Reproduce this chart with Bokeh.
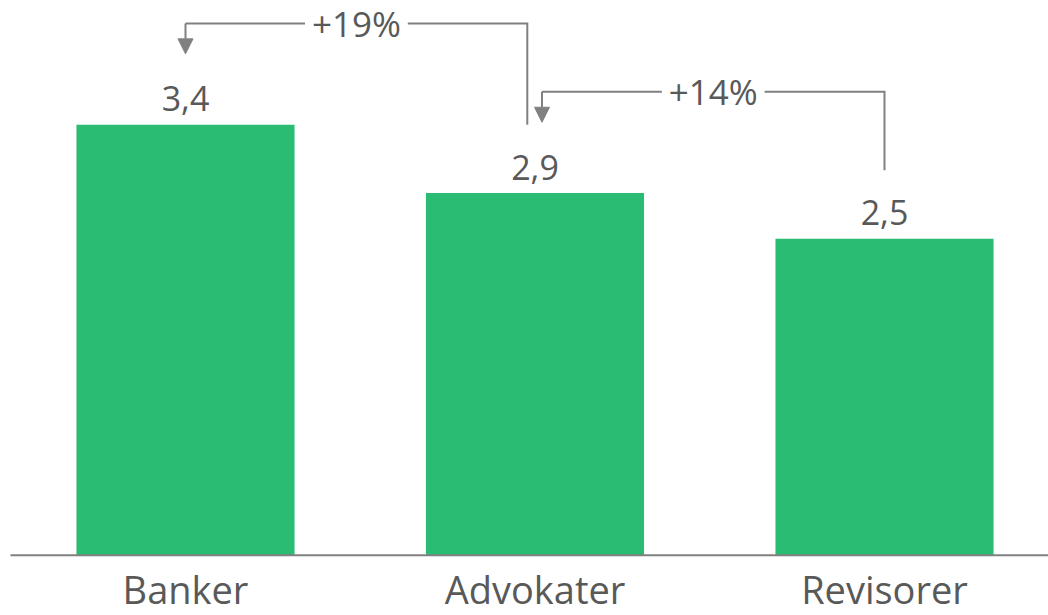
from bokeh.plotting import figure
from bokeh.models import Range1d, Arrow, NormalHead
from bokeh.core.properties import value
from bokeh.embed import file_html
from bokeh.resources import INLINE

# ---- data ----
categories = ["Banker", "Advokater", "Revisorer"]
values = [3.4, 2.86, 2.5]
value_labels = ["3,4", "2,9", "2,5"]
comparisons = [(1, 0), (2, 1)]   # (from bar, to bar)

# ---- style / layout ----
BAR = "#2bbc74"
GREY = "#808080"
TEXT = "#595959"
FONT = "Open Sans"

W, H = 1048, 615
BASE = 554.7            # pixel row of the baseline
PX = 126.6              # pixels per unit
XU = 349.5              # pixels per bar slot
x_start = -185.0 / XU
x_end = x_start + W / XU
y_end = BASE / PX
y_start = -(H - BASE) / PX

xs = list(range(len(categories)))

p = figure(width=W, height=H, output_backend="svg", toolbar_location=None,
           x_range=Range1d(x_start, x_end), y_range=Range1d(y_start, y_end),
           x_axis_location=None, y_axis_location=None,
           min_border_left=0, min_border_right=0, min_border_top=0, min_border_bottom=0)
p.outline_line_color = None
p.xgrid.visible = False
p.ygrid.visible = False
p.background_fill_color = "white"

# bars
p.vbar(x=xs, top=values, bottom=0, width=0.624, fill_color=BAR, line_color=None)

# baseline
p.segment(x0=[x_start + 10 / XU], x1=[x_end], y0=[0], y1=[0], line_color=GREY, line_width=2)

# value labels
p.text(x=xs, y=[v + 26 / PX for v in values], text=value_labels, text_align="center",
       text_baseline="middle", text_font=value(FONT), text_font_size="34px", text_color=TEXT)

# category labels
p.text(x=xs, y=[-34 / PX] * len(xs), text=categories, text_align="center",
       text_baseline="middle", text_font=value(FONT), text_font_size="38px", text_color=TEXT)

# ---- comparison brackets ----
level_off, tip_off, src_off, gap = 0.80, 0.56, 0.54, 0.147
sources = {f for f, t in comparisons}
targets = {t for f, t in comparisons}
lx, ly = [], []
for f, t in comparisons:
    sx = f - (0.022 if f in targets else 0)
    dx = t + (0.02 if t in sources else 0)
    level = max(values[f], values[t]) + level_off
    mid = (sx + dx) / 2
    lx.append([sx, sx, mid + gap]); ly.append([values[f] + src_off, level, level])
    lx.append([mid - gap, dx]); ly.append([level, level])
    p.add_layout(Arrow(end=NormalHead(size=15, fill_color=GREY, line_color=GREY, line_width=1),
                       x_start=dx, y_start=level, x_end=dx, y_end=values[t] + tip_off,
                       line_color=GREY, line_width=2))
    pct = round((values[t] / values[f] - 1) * 100)
    p.text(x=[mid], y=[level], text=[f"+{pct}%"], text_align="center", text_baseline="middle",
           text_font=value(FONT), text_font_size="35px", text_color=TEXT)
p.multi_line(xs=lx, ys=ly, line_color=GREY, line_width=2, line_join="miter")

open("out.html", "w").write(file_html(p, INLINE))
